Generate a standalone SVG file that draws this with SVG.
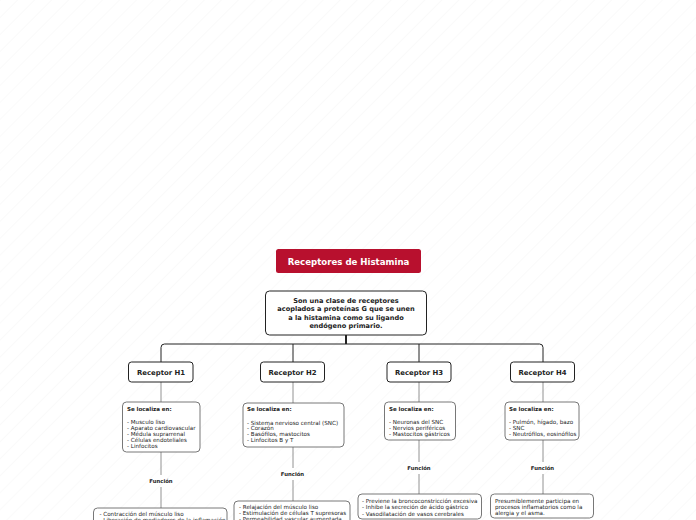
<svg xmlns="http://www.w3.org/2000/svg" width="696" height="520" viewBox="0 0 696 520">
<defs>
<pattern id="hatch" patternUnits="userSpaceOnUse" width="12" height="12" patternTransform="rotate(45)">
<line x1="0" y1="0" x2="0" y2="12" stroke="#f1f1f1" stroke-width="0.7"/>
</pattern>
<style>
text{font-family:"DejaVu Sans","Verdana",sans-serif;fill:#222}
.title{font-size:8.6px;fill:#fff;font-weight:bold}
.main{font-size:6.6px;font-weight:bold;text-anchor:middle}
.rec{font-size:6.9px;font-weight:bold;text-anchor:middle}
.sm{font-size:5.6px}
.hd{font-size:5.5px;font-weight:bold}
.fn{font-size:5.3px;font-weight:bold;text-anchor:middle}
.box{fill:#fff;stroke:#555;stroke-width:0.8}
.rbox{fill:#fff;stroke:#222;stroke-width:1}
.ln{fill:none;stroke:#777;stroke-width:0.8}
.top{fill:none;stroke:#222;stroke-width:1}
</style>
</defs>
<rect width="696" height="520" fill="#fff"/>
<rect width="696" height="520" fill="url(#hatch)"/>

<g id="connectors">
<line x1="346" y1="335" x2="346" y2="344" stroke="#222" stroke-width="2"/>
<path class="top" d="M161,362 V347.5 Q161,344 164.5,344 H539.5 Q543,344 543,347.5 V362"/>
<line class="top" x1="293" y1="344" x2="293" y2="362"/>
<line class="top" x1="419" y1="344" x2="419" y2="362"/>
<line class="ln" x1="161" y1="382" x2="161" y2="402"/>
<line class="ln" x1="161" y1="452" x2="161" y2="475"/>
<line class="ln" x1="161" y1="487" x2="161" y2="508"/>
<line class="ln" x1="293" y1="382" x2="293" y2="403"/>
<line class="ln" x1="293" y1="447" x2="293" y2="468"/>
<line class="ln" x1="293" y1="480" x2="293" y2="501"/>
<line class="ln" x1="419" y1="382" x2="419" y2="402"/>
<line class="ln" x1="419" y1="440" x2="419" y2="462"/>
<line class="ln" x1="419" y1="474" x2="419" y2="494"/>
<line class="ln" x1="543" y1="382" x2="543" y2="402"/>
<line class="ln" x1="543" y1="440" x2="543" y2="462"/>
<line class="ln" x1="543" y1="474" x2="543" y2="494"/>
</g>

<g id="title">
<rect x="276" y="249" width="145" height="24" rx="2.5" fill="#b8102e"/>
<text class="title" x="348.5" y="264.5" text-anchor="middle">Receptores de Histamina</text>
</g>

<g id="definicion">
<rect class="rbox" x="265.5" y="291" width="161" height="44" rx="4"/>
<text class="main" x="346" y="302.5">Son una clase de receptores</text>
<text class="main" x="346" y="311">acoplados a proteínas G que se unen</text>
<text class="main" x="346" y="319.7">a la histamina como su ligando</text>
<text class="main" x="346" y="328.2">endógeno primario.</text>
</g>

<g id="h1">
<rect class="rbox" x="128.5" y="362" width="64.5" height="20" rx="3"/>
<text class="rec" x="161" y="374.5">Receptor H1</text>
</g>
<g id="h2">
<rect class="rbox" x="260.5" y="362" width="64" height="20" rx="3"/>
<text class="rec" x="292.5" y="374.5">Receptor H2</text>
</g>
<g id="h3">
<rect class="rbox" x="387" y="362" width="64" height="20" rx="3"/>
<text class="rec" x="419" y="374.5">Receptor H3</text>
</g>
<g id="h4">
<rect class="rbox" x="510.5" y="362" width="64" height="20" rx="3"/>
<text class="rec" x="542.5" y="374.5">Receptor H4</text>
</g>

<g id="h1-loc">
<rect class="box" x="122.5" y="402" width="77.5" height="50" rx="4"/>
<text class="hd" x="127" y="411.4">Se localiza en:</text>
<text class="sm" x="127" y="424">- Musculo liso</text>
<text class="sm" x="127" y="430">- Aparato cardiovascular</text>
<text class="sm" x="127" y="436">- Médula suprarrenal</text>
<text class="sm" x="127" y="442">- Células endoteliales</text>
<text class="sm" x="127" y="448">- Linfocitos</text>
</g>
<g id="h1-funcion-label"><text class="fn" x="161" y="482.8">Función</text></g>
<g id="h1-funcion">
<rect class="box" x="93.5" y="508" width="133.5" height="20" rx="4"/>
<text class="sm" x="99.5" y="516.2">- Contracción del músculo liso</text>
<text class="sm" x="99.5" y="522.2">- Liberación de mediadores de la inflamación</text>
</g>

<g id="h2-loc">
<rect class="box" x="243" y="403" width="101" height="44" rx="4"/>
<text class="hd" x="247" y="411.4">Se localiza en:</text>
<text class="sm" x="247" y="424.5">- Sistema nervioso central (SNC)</text>
<text class="sm" x="247" y="430.2">- Corazón</text>
<text class="sm" x="247" y="435.9">- Basófilos, mastocitos</text>
<text class="sm" x="247" y="441.6">- Linfocitos B y T</text>
</g>
<g id="h2-funcion-label"><text class="fn" x="292.5" y="475.8">Función</text></g>
<g id="h2-funcion">
<rect class="box" x="234" y="501" width="116" height="25" rx="4"/>
<text class="sm" x="239" y="509">- Relajación del músculo liso</text>
<text class="sm" x="239" y="515">- Estimulación de células T supresoras</text>
<text class="sm" x="239" y="521">- Permeabilidad vascular aumentada</text>
</g>

<g id="h3-loc">
<rect class="box" x="384.5" y="402" width="71" height="38" rx="4"/>
<text class="hd" x="389" y="411.4">Se localiza en:</text>
<text class="sm" x="389" y="424">- Neuronas del SNC</text>
<text class="sm" x="389" y="429.8">- Nervios periféricos</text>
<text class="sm" x="389" y="435.8">- Mastocitos gástricos</text>
</g>
<g id="h3-funcion-label"><text class="fn" x="419" y="469.8">Función</text></g>
<g id="h3-funcion">
<rect class="box" x="358" y="494" width="123.5" height="25" rx="4"/>
<text class="sm" x="362" y="503">- Previene la broncoconstricción excesiva</text>
<text class="sm" x="362" y="509.4">- Inhibe la secreción de ácido gástrico</text>
<text class="sm" x="362" y="515.8">- Vasodilatación de vasos cerebrales</text>
</g>

<g id="h4-loc">
<rect class="box" x="505" y="402" width="74" height="38" rx="4"/>
<text class="hd" x="509" y="411.4">Se localiza en:</text>
<text class="sm" x="509" y="423.8">- Pulmón, hígado, bazo</text>
<text class="sm" x="509" y="429.8">- SNC</text>
<text class="sm" x="509" y="435.8">- Neutrófilos, eosinófilos</text>
</g>
<g id="h4-funcion-label"><text class="fn" x="542.5" y="469.8">Función</text></g>
<g id="h4-funcion">
<rect class="box" x="490.5" y="494" width="103" height="24" rx="4"/>
<text class="sm" x="495" y="502.5">Presumiblemente participa en</text>
<text class="sm" x="495" y="508.9">procesos inflamatorios como la</text>
<text class="sm" x="495" y="515.3">alergia y el asma.</text>
</g>
</svg>
